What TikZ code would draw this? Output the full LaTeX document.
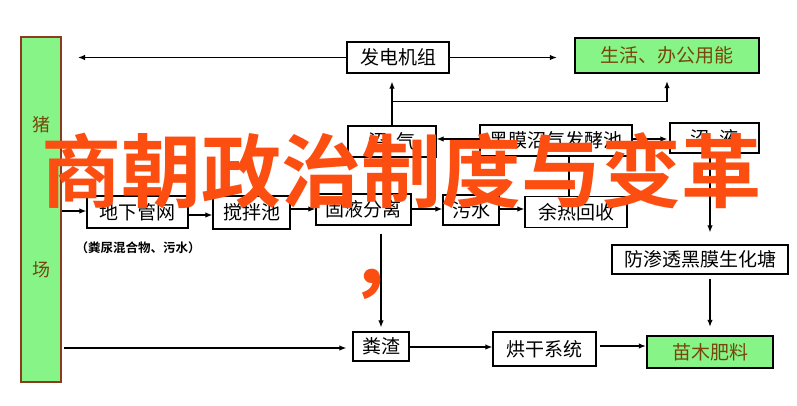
\documentclass[tikz,border=0pt]{standalone}
\usepackage{fontspec}
\setmainfont{Noto Sans CJK SC}[BoldFont={Noto Sans CJK SC Bold}]
\usetikzlibrary{arrows.meta,calc}
\definecolor{boxgreen}{RGB}{134,244,134}
\definecolor{barbrown}{RGB}{140,60,30}
\definecolor{txtbrown}{RGB}{120,70,10}
\definecolor{overlay}{RGB}{252,78,16}
\begin{document}
\begin{tikzpicture}[x=1pt,y=-1pt,
  box/.style={draw=black, line width=1.3pt, fill=white, inner sep=0pt,
    font=\fontsize{19}{19}\selectfont, text=black},
  gbox/.style={box, fill=boxgreen, line width=2.4pt, text=txtbrown},
  arr/.style={line width=1.2pt, -{Latex[length=7pt,width=5.5pt]}},
  plain/.style={line width=1.2pt},
  bigtext/.style={inner sep=0pt, text=overlay, font=\fontsize{80}{80}\selectfont\bfseries}
]
\useasboundingbox (0,0) rectangle (797,405);
\fill[white] (0,0) rectangle (797,405);

% left bar
\node[draw=barbrown, line width=2pt, fill=boxgreen, minimum width=40pt, minimum height=345pt, inner sep=0pt] (bar) at (41,209.5) {};
\node[inner sep=0pt, text=txtbrown, font=\fontsize{18}{18}\selectfont] (zhu) at (41,125) {猪};
\node[inner sep=0pt, text=txtbrown, font=\fontsize{18}{18}\selectfont] (chang) at (41,270) {场};

% boxes
\node[box, minimum width=102pt, minimum height=31pt] (fadian) at (398,57.5) {发电机组};
\node[gbox, minimum width=184pt, minimum height=35pt] (shenghuo) at (667,55.5) {生活、办公用能};
\node[box, minimum width=88pt, minimum height=31pt] (zhaoqi) at (392,141.5) {沼\hspace{0.5em}气};
\node[box, minimum width=152pt, minimum height=31pt] (heimo) at (556,140.5) {黑膜沼气发酵池};
\node[box, minimum width=89pt, minimum height=30pt] (zhaoye) at (714.5,138) {沼\hspace{0.5em}液};
\node[box, minimum width=101pt, minimum height=32pt] (dixia) at (137.5,212) {地下管网};
\node[box, minimum width=77pt, minimum height=33pt] (jiaoban) at (251.5,212.5) {搅拌池};
\node[box, minimum width=95pt, minimum height=31pt] (guye) at (363.5,209.5) {固液分离};
\node[box, minimum width=56pt, minimum height=30pt] (wushui) at (471,210) {污水};
\node[box, minimum width=102pt, minimum height=31pt] (yure) at (576,212) {余热回收};
\node[box, minimum width=176pt, minimum height=29pt] (fangshen) at (700,259.5) {防渗透黑膜生化塘};
\node[box, minimum width=56pt, minimum height=29pt] (fenzha) at (381,346.5) {粪渣};
\node[box, minimum width=103pt, minimum height=34pt] (honggan) at (544.5,349) {烘干系统};
\node[gbox, minimum width=126pt, minimum height=32pt] (miaomu) at (710,352) {苗木肥料};

\node[inner sep=0pt, font=\fontsize{12.5}{12.5}\selectfont\bfseries] (note) at (138,248) {（粪尿混合物、污水）};

% connectors
\draw[arr, shorten >=16pt] (fadian.west) -- (fadian.west -| bar.east);
\draw[arr, shorten >=17pt] (fadian.east) -- (fadian.east -| shenghuo.west);
\draw[arr, shorten >=8pt] (zhaoqi.north) -- (zhaoqi.north |- fadian.south);
\coordinate (br) at ($(zhaoqi.north)+(0,-24)$);
\draw[arr, shorten >=7pt] (br) -| (shenghuo.south);
\draw[arr] (heimo.west |- 0,139) -- (zhaoqi.east |- 0,139);
\draw[arr, shorten >=2pt] (heimo.east |- 0,139) -- (zhaoye.west |- 0,139);
\draw[arr, shorten >=12pt] (zhaoye.south -| miaomu.north) -- (fangshen.north -| miaomu.north);
\draw[arr, shorten >=8pt, shorten <=4pt] (fangshen.south -| miaomu.north) -- (miaomu.north);

\draw[arr] (bar.east |- 0,211) -- (dixia.west |- 0,211);
\draw[arr] (dixia.east |- 0,215) -- (jiaoban.west |- 0,215);
\draw[arr] (jiaoban.east |- 0,209) -- (guye.west |- 0,209);
\draw[arr] (guye.east |- 0,209) -- (wushui.west |- 0,209);
\draw[arr] (wushui.east |- 0,209) -- (yure.west |- 0,209);
\draw[plain] ([xshift=-7pt]yure.north) -- ([xshift=-7pt]yure.north |- heimo.south);
\draw[arr, shorten >=4pt, shorten <=8pt] (guye.south -| fenzha.north) -- (fenzha.north);
\draw[arr, shorten >=6pt, shorten <=2pt] (bar.east |- 0,348) -- (fenzha.west |- 0,348);
\draw[arr] (fenzha.east |- 0,347) -- (honggan.west |- 0,347);
\draw[arr, shorten <=3pt] (honggan.east |- 0,346) -- (miaomu.west |- 0,346);

% overlay text
\node[bigtext] (title) at (401,171) {商朝政治制度与变革};
\node[bigtext] (comma) at (389,284) {，};
\end{tikzpicture}
\end{document}
